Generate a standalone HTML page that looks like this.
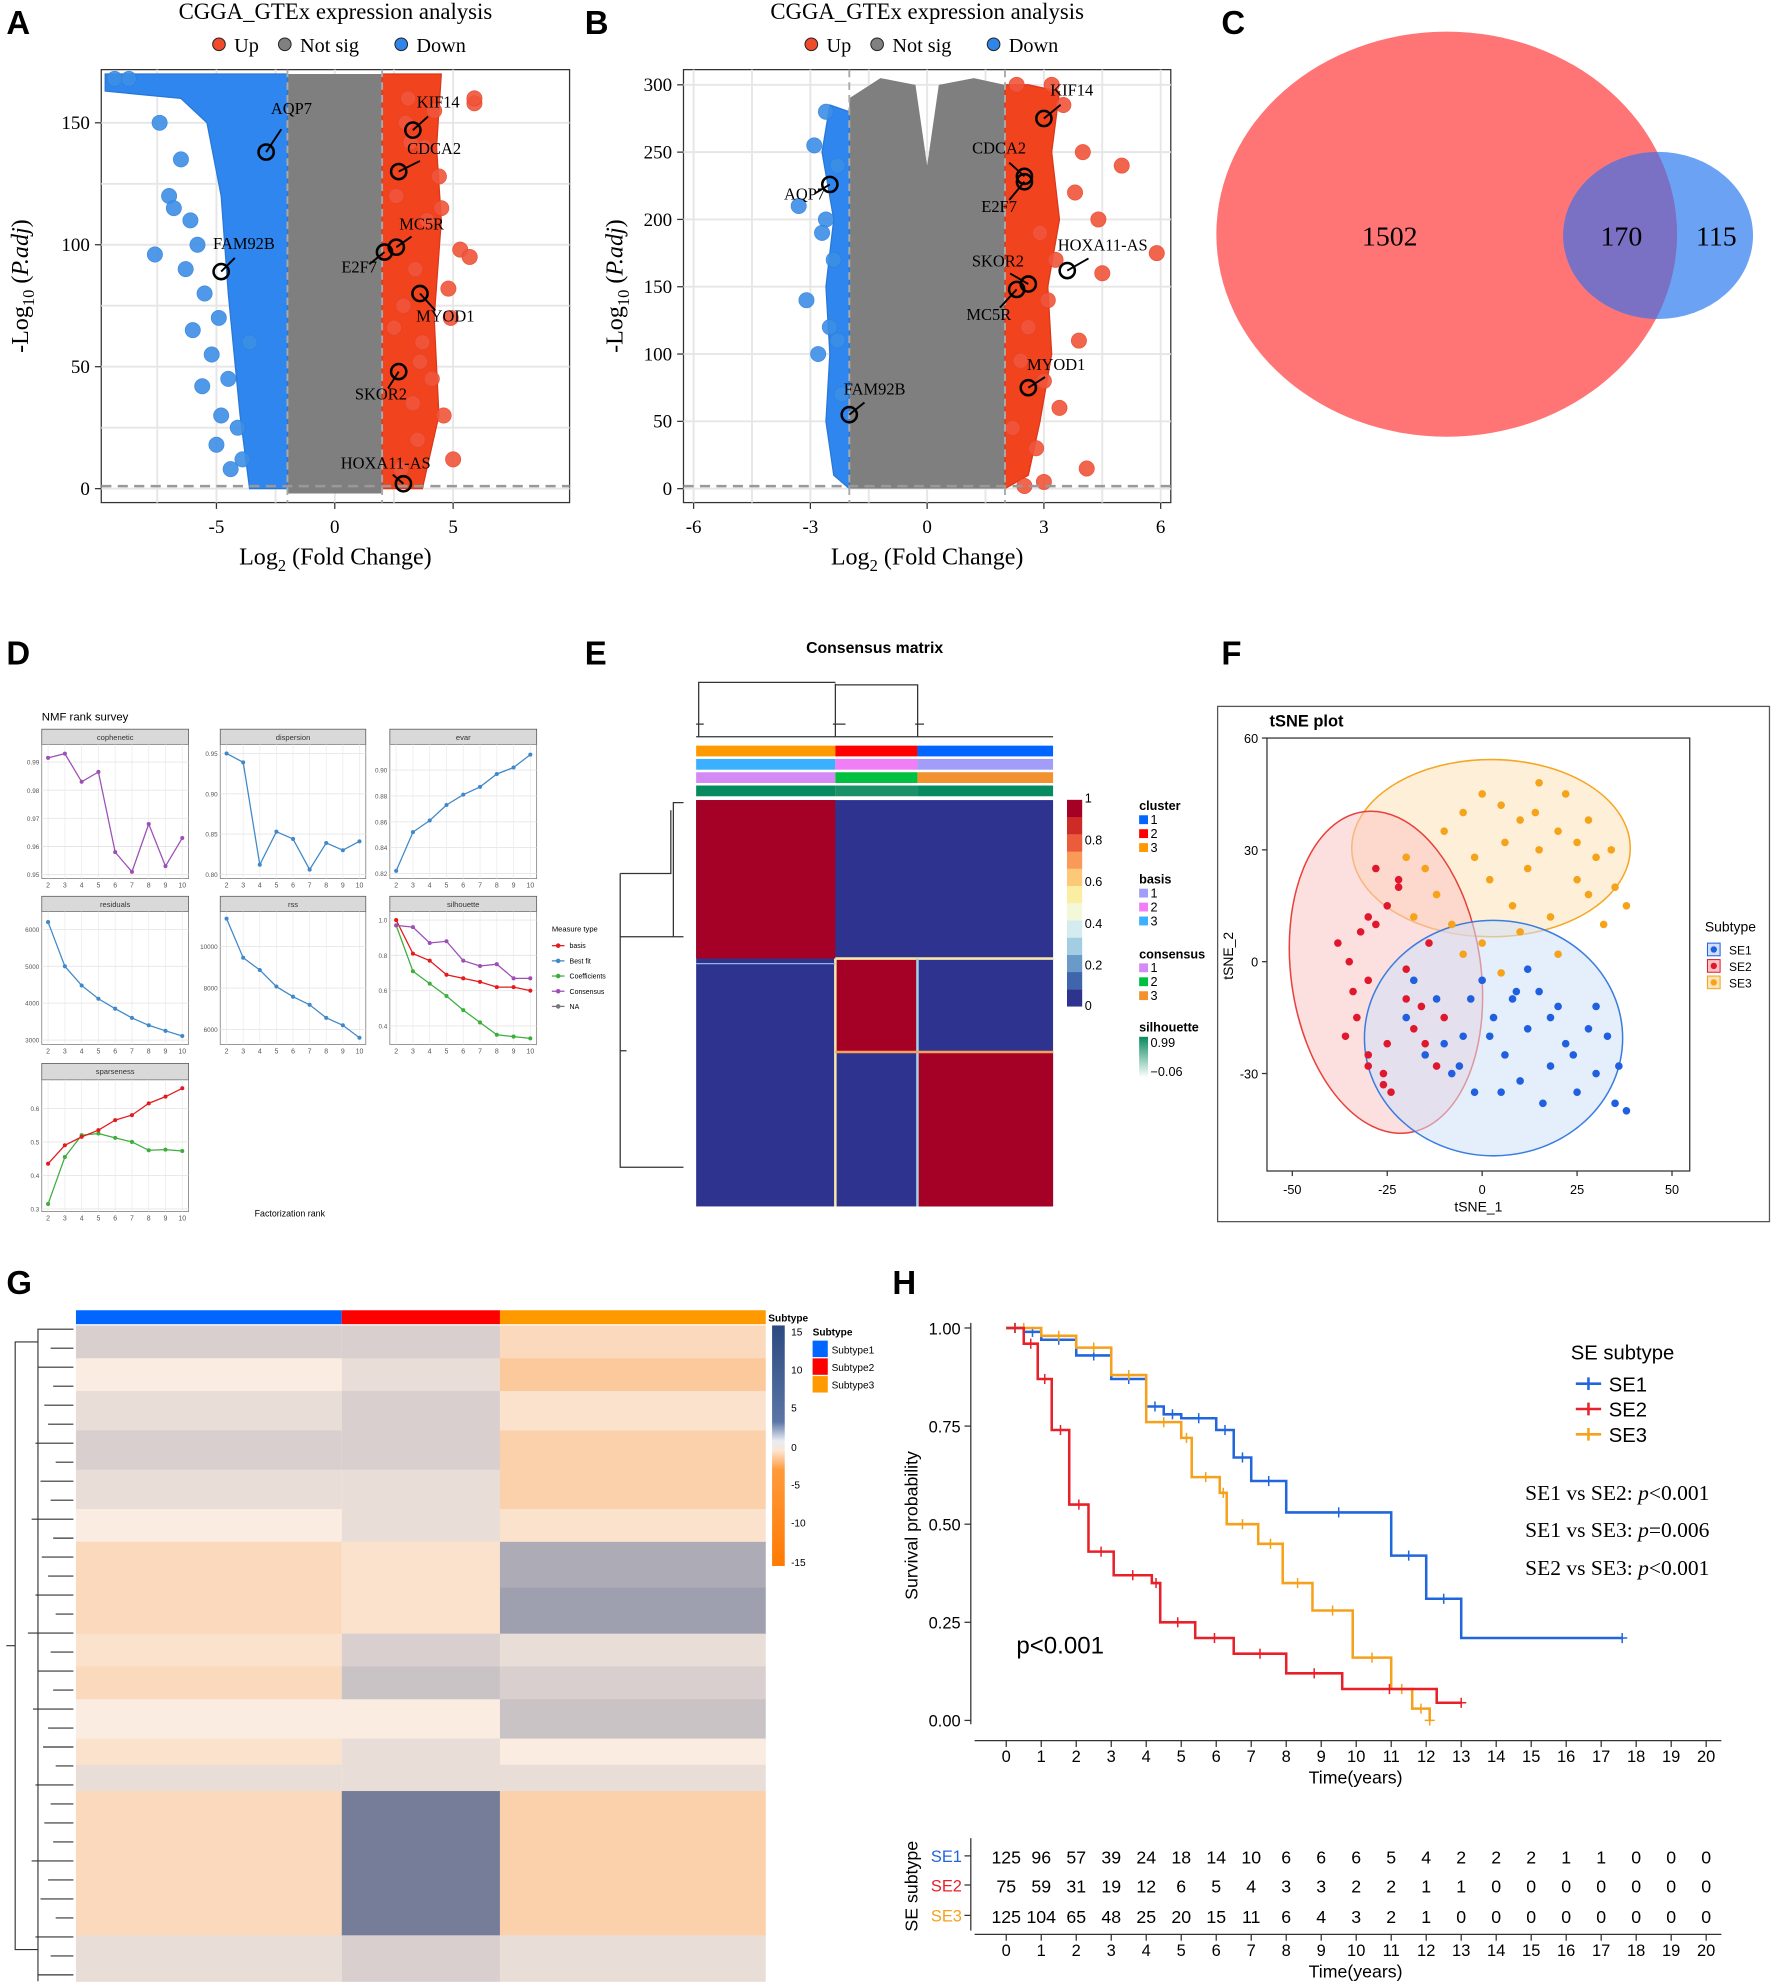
<!DOCTYPE html>
<html><head><meta charset="utf-8">
<style>
html,body{margin:0;padding:0;background:#fff;}
svg{display:block;}
text{font-family:"Liberation Sans",sans-serif;}
.serif{font-family:"Liberation Serif",serif;}
</style></head>
<body>
<svg id="fig" xmlns="http://www.w3.org/2000/svg" width="1772" height="1985" viewBox="0 0 1400 1568" preserveAspectRatio="none">
<g id="panelA"></g>
<g id="panelB"></g>
<g id="panelC"></g>
<g id="panelD"></g>
<g id="panelE"></g>
<g id="panelF"></g>
<g id="panelG"></g>
<g id="panelH"></g>
</svg>
<script>
// ---------------- DATA ----------------
const aGenes = ["AQP7","FAM92B","KIF14","CDCA2","MC5R","E2F7","MYOD1","SKOR2","HOXA11-AS"];
const aGeneX = [-2.9,-4.8,3.3,2.7,2.6,2.1,3.6,2.7,2.9];
const aGeneY = [138,89,147,130,99,97,80,48,2];
const aUpX = [3.1,4.2,5.9,3.8,2.6,4.5,5.3,3.4,2.9,4.9,3.7,5.7,4.1,3.3,4.6,3.5,5.0,2.8,3.9,4.4,3.2,5.9,3.6,2.5,4.8,3.0];
const aUpY = [160,155,158,140,120,115,98,90,75,70,60,95,45,35,30,20,12,8,110,128,142,160,52,66,82,150];
const aDownX = [-9.3,-8.7,-7.4,-6.5,-7.0,-6.1,-5.8,-6.3,-5.5,-4.9,-6.0,-5.2,-4.5,-5.6,-4.8,-4.1,-5.0,-3.9,-4.4,-3.6,-6.8,-7.6];
const aDownY = [168,168,150,135,120,110,100,90,80,70,65,55,45,42,30,25,18,12,8,60,115,96];
const bGenes = ["KIF14","CDCA2","E2F7","AQP7","HOXA11-AS","SKOR2","MC5R","MYOD1","FAM92B"];
const bGeneX = [3.0,2.5,2.5,-2.5,3.6,2.6,2.3,2.6,-2.0];
const bGeneY = [275,232,228,226,162,152,148,75,55];
const bUpX = [2.3,3.2,3.5,4.0,5.0,5.9,3.8,4.4,2.9,3.3,4.5,3.1,2.6,3.9,2.4,3.0,3.4,2.2,2.8,4.1,3.0,2.5];
const bUpY = [300,300,285,250,240,175,220,200,190,170,160,140,120,110,95,80,60,45,30,15,5,2];
const bDownX = [-2.6,-2.9,-2.3,-3.3,-2.6,-2.7,-2.4,-3.1,-2.5,-2.3,-2.8,-2.2];
const bDownY = [280,255,240,210,200,190,170,140,120,110,100,70];
const vennLeft = 1502, vennMid = 170, vennRight = 115;
const dRanks = [2,3,4,5,6,7,8,9,10];
const dCoph = [0.9915,0.993,0.983,0.9865,0.958,0.951,0.968,0.953,0.963];
const dDisp = [0.950,0.939,0.812,0.853,0.844,0.806,0.839,0.830,0.841];
const dEvar = [0.822,0.852,0.861,0.873,0.881,0.887,0.897,0.902,0.912];
const dResid = [6200,5000,4480,4120,3850,3600,3400,3250,3110];
const dRss = [11350,9460,8870,8070,7580,7190,6560,6200,5600];
const dSilBasis = [1.0,0.81,0.77,0.69,0.67,0.65,0.62,0.62,0.60];
const dSilCoef = [0.97,0.71,0.64,0.57,0.49,0.42,0.35,0.34,0.33];
const dSilCons = [0.97,0.96,0.87,0.88,0.77,0.74,0.75,0.67,0.67];
const dSparBasis = [0.435,0.49,0.515,0.535,0.565,0.58,0.615,0.635,0.66];
const dSparCoef = [0.315,0.455,0.52,0.525,0.512,0.50,0.475,0.477,0.473];
const eClusterSizes = [0.39,0.23,0.38];
const fSE1x = [-20,-15,-12,-8,-5,-2,0,3,6,8,10,12,15,18,20,22,25,28,30,35,38,-18,-10,-3,5,12,18,24,30,-6,2,9,16,36,33];
const fSE1y = [-15,-25,-10,-30,-20,-35,-5,-15,-25,-10,-32,-18,-8,-28,-12,-22,-35,-18,-30,-38,-40,-5,-22,-10,-35,-2,-15,-25,-12,-28,-20,-8,-38,-28,-20];
const fSE2x = [-38,-35,-32,-30,-28,-25,-22,-20,-33,-36,-30,-26,-24,-18,-15,-12,-28,-22,-30,-34,-16,-10,-25,-20,-14,-30,-26];
const fSE2y = [5,0,8,-5,10,15,20,-10,-15,-20,-25,-30,-35,-18,-22,-28,25,22,12,-8,-12,-15,-22,-2,5,-28,-33];
const fSE3x = [-20,-15,-10,-5,0,5,10,15,20,25,30,35,-12,-8,2,8,12,18,22,28,32,38,-18,-2,6,15,25,34,0,10,20,28,-5,5,14];
const fSE3y = [28,25,35,40,45,42,38,30,35,32,28,20,18,10,22,15,25,12,45,38,10,15,12,28,32,48,22,30,5,8,2,18,2,-3,40];
const gBandFrac = [0.05,0.05,0.06,0.06,0.06,0.05,0.07,0.07,0.05,0.05,0.06,0.04,0.04,0.22,0.07];
const gSub1 = [2,0,1,2,1,0,-2,-2,-1,-2,0,-1,1,-2,1];
const gSub2 = [2,1,2,2,1,1,-1,-1,2,3,0,1,1,9,2];
const gSub3 = [-2,-4,-1,-3,-3,-1,5,6,1,2,3,0,1,-3,1];
const hSE1t = [0,0.5,1,2,3,4,4.5,5,6,6.5,7,8,11,12,13,17.6];
const hSE1s = [1,0.99,0.97,0.93,0.87,0.80,0.78,0.77,0.74,0.67,0.61,0.53,0.42,0.31,0.21,0.21];
const hSE2t = [0,0.5,0.9,1.3,1.8,2.35,3.07,4.16,4.4,5.4,6.5,8,9.6,12.3,13];
const hSE2s = [1,0.96,0.87,0.74,0.55,0.43,0.37,0.35,0.25,0.21,0.17,0.12,0.08,0.045,0.045];
const hSE3t = [0,1,2,3,4,5,5.3,6.1,6.3,7.2,7.9,8.75,9.9,11,11.6,12.1,12.1];
const hSE3s = [1,0.98,0.95,0.88,0.76,0.72,0.62,0.58,0.50,0.45,0.35,0.28,0.16,0.08,0.03,0.03,0.0];
const hRiskTimes = [0,1,2,3,4,5,6,7,8,9,10,11,12,13,14,15,16,17,18,19,20];
const hRiskSE1 = [125,96,57,39,24,18,14,10,6,6,6,5,4,2,2,2,1,1,0,0,0];
const hRiskSE2 = [75,59,31,19,12,6,5,4,3,3,2,2,1,1,0,0,0,0,0,0,0];
const hRiskSE3 = [125,104,65,48,25,20,15,11,6,4,3,2,1,0,0,0,0,0,0,0,0];

// ---------------- HELPERS ----------------
const NS = "http://www.w3.org/2000/svg";
function mk(tag, attrs, parent){
  const e = document.createElementNS(NS, tag);
  for (const k in attrs) e.setAttribute(k, attrs[k]);
  parent.appendChild(e);
  return e;
}
function txt(s, x, y, attrs, parent){
  const e = mk("text", Object.assign({x:x, y:y}, attrs), parent);
  e.textContent = s;
  return e;
}
function lin(d0,d1,r0,r1){ return v => r0 + (v-d0)/(d1-d0)*(r1-r0); }
const $ = id => document.getElementById(id);

const letters = [["A",5,27],["B",462,27],["C",965,27],["D",5,525],["E",462,525],["F",965,525],["G",5,1022],["H",705,1022]];
for (const [L,x,y] of letters){
  const t = txt(L, x, y, {"font-size":26,"font-weight":"bold"}, $("fig"));
  
  
}

// ---------------- VOLCANO ----------------
function volcano(g, cfg){
  const sx = lin(cfg.xd[0],cfg.xd[1],cfg.px[0],cfg.px[1]);
  const sy = lin(cfg.yd[0],cfg.yd[1],cfg.py[0],cfg.py[1]);
  const t1 = txt("CGGA_GTEx expression analysis",(cfg.box[0]+cfg.box[2])/2,15,{"font-size":18,"text-anchor":"middle","class":"serif"},g);
  
  
  const leg = [["Up","#ef4a2a"],["Not sig","#808080"],["Down","#2f86e8"]];
  let lx = cfg.legX;
  for (const [lab,col] of leg){
    const c = mk("circle",{cx:lx,cy:35,r:5,fill:col,stroke:"#222","stroke-width":0.8},g);
    
    
    const tt = txt(lab,lx+12,41,{"font-size":16,"class":"serif"},g);
    
    
    lx += lab.length*8+36;
  }
  const bx = cfg.box;
  const frame = mk("rect",{x:bx[0],y:bx[1],width:bx[2]-bx[0],height:bx[3]-bx[1],fill:"#fff",stroke:"#333","stroke-width":1},g);
  
  
  for (const v of cfg.xgrid){ mk("line",{x1:sx(v),x2:sx(v),y1:bx[1],y2:bx[3],stroke:"#e6e6e6","stroke-width":1.5},g); }
  for (const v of cfg.ygrid){ mk("line",{x1:bx[0],x2:bx[2],y1:sy(v),y2:sy(v),stroke:"#e6e6e6","stroke-width":1.5},g); }
  const grey = mk("path",{d:cfg.greyPath(sx,sy),fill:"#7f7f7f"},g);
  
  
  const blue = mk("path",{d:cfg.bluePath(sx,sy),fill:"#2f86ee",stroke:"#2a78d6","stroke-width":1},g);
  
  
  const red = mk("path",{d:cfg.redPath(sx,sy),fill:"#f0431e",stroke:"#d9381c","stroke-width":1},g);
  
  
  for (let i=0;i<cfg.upX.length;i++){
    const c = mk("circle",{cx:sx(cfg.upX[i]),cy:sy(cfg.upY[i]),r:cfg.r,fill:"#f0553a",stroke:"#e8432a","stroke-width":0.6,opacity:0.9},g);
    
    
  }
  for (let i=0;i<cfg.downX.length;i++){
    const c = mk("circle",{cx:sx(cfg.downX[i]),cy:sy(cfg.downY[i]),r:cfg.r,fill:"#3d8fe6",stroke:"#2f80dd","stroke-width":0.6,opacity:0.9},g);
    
    
  }
  for (const v of cfg.fcLines){ mk("line",{x1:sx(v),x2:sx(v),y1:bx[1],y2:bx[3],stroke:"#aaa","stroke-width":1.5,"stroke-dasharray":"6,4"},g); }
  mk("line",{x1:bx[0],x2:bx[2],y1:sy(cfg.yd[0])-2,y2:sy(cfg.yd[0])-2,stroke:"#999","stroke-width":2,"stroke-dasharray":"8,5"},g);
  for (let i=0;i<cfg.genes.length;i++){
    const x = sx(cfg.gx[i]), y = sy(cfg.gy[i]);
    const o = cfg.lab[i];
    mk("line",{x1:x,y1:y,x2:x+o[0]*0.6,y2:y+o[1]*0.6,stroke:"#000","stroke-width":1.5},g);
    const c = mk("circle",{cx:x,cy:y,r:6,fill:"none",stroke:"#000","stroke-width":2},g);
    
    
    const t = txt(cfg.genes[i],x+o[0],y+o[1],{"font-size":13,"text-anchor":"middle","class":"serif"},g);
    
    
  }
  for (const v of cfg.xticks){
    mk("line",{x1:sx(v),x2:sx(v),y1:bx[3],y2:bx[3]+5,stroke:"#333"},g);
    const t = txt(String(v),sx(v),bx[3]+24,{"font-size":15,"text-anchor":"middle","class":"serif"},g);
    
    
  }
  for (const v of cfg.yticks){
    mk("line",{x1:bx[0]-5,x2:bx[0],y1:sy(v),y2:sy(v),stroke:"#333"},g);
    const t = txt(String(v),bx[0]-9,sy(v)+5,{"font-size":15,"text-anchor":"end","class":"serif"},g);
    
    
  }
  const xt = mk("text",{x:(bx[0]+bx[2])/2,y:446,"font-size":19,"text-anchor":"middle","class":"serif"},g);
  xt.innerHTML = 'Log<tspan font-size="13" dy="5">2</tspan><tspan dy="-5"> (Fold Change)</tspan>';
  
  
  const yt = mk("text",{x:0,y:0,"font-size":19,"text-anchor":"middle","class":"serif",transform:`translate(${cfg.ytx},${(bx[1]+bx[3])/2}) rotate(-90)`},g);
  yt.innerHTML = '-Log<tspan font-size="13" dy="5">10</tspan><tspan dy="-5"> (</tspan><tspan font-style="italic">P.adj</tspan>)';
  
  
}
function P(pts,sx,sy){ return "M"+pts.map(p=>sx(p[0])+","+sy(p[1])).join("L")+"Z"; }

volcano($("panelA"),{
  box:[80,55,450,397], xd:[-5,5], px:[171,358], yd:[0,150], py:[386,97], legX:173, ytx:22,
  xgrid:[-7.5,-5,-2.5,0,2.5,5], ygrid:[0,25,50,75,100,125,150], xticks:[-5,0,5], yticks:[0,50,100,150], r:6,
  fcLines:[-2,2], genes:aGenes, gx:aGeneX, gy:aGeneY, upX:aUpX, upY:aUpY, downX:aDownX, downY:aDownY,
  lab:[[20,-30],[18,-18],[20,-18],[28,-14],[20,-14],[-20,16],[20,22],[-14,22],[-14,-12]],
  greyPath:(sx,sy)=>P([[-2,170],[2,170],[2,-2],[-2,-2]],sx,sy),
  bluePath:(sx,sy)=>P([[-9.7,170],[-2,170],[-2,0],[-3.6,0],[-4.0,30],[-4.5,80],[-4.8,120],[-5.4,150],[-6.5,160],[-9.7,163]],sx,sy),
  redPath:(sx,sy)=>P([[2,170],[4.5,170],[4.3,140],[4.5,110],[4.2,70],[4.4,30],[3.7,0],[2,0]],sx,sy)
});
volcano($("panelB"),{
  box:[540,55,925,397], xd:[-6,6], px:[548,917], yd:[0,300], py:[386,67], legX:641, ytx:492,
  xgrid:[-6,-4.5,-3,-1.5,0,1.5,3,4.5,6], ygrid:[0,50,100,150,200,250,300], xticks:[-6,-3,0,3,6], yticks:[0,50,100,150,200,250,300], r:6,
  fcLines:[-2,2], genes:bGenes, gx:bGeneX, gy:bGeneY, upX:bUpX, upY:bUpY, downX:bDownX, downY:bDownY,
  lab:[[22,-18],[-20,-18],[-20,24],[-20,12],[28,-16],[-24,-14],[-22,24],[22,-14],[20,-16]],
  greyPath:(sx,sy)=>P([[-2,290],[-1.2,305],[-0.3,300],[0,240],[0.3,300],[1.2,305],[2,300],[2,0],[-2,0]],sx,sy),
  bluePath:(sx,sy)=>P([[-2,280],[-2.5,285],[-2.7,250],[-2.4,200],[-2.6,150],[-2.5,100],[-2.6,50],[-2.4,10],[-2,0]],sx,sy),
  redPath:(sx,sy)=>P([[2,300],[2.6,300],[3.4,295],[3.2,250],[3.4,200],[3.1,150],[3.2,100],[2.9,50],[2.6,10],[2,0]],sx,sy)
});

// ---------------- VENN ----------------
(function(){
  const g = $("panelC");
  const a = mk("ellipse",{cx:1143,cy:185,rx:182,ry:160,fill:"#ff7575"},g);
  
  
  const b = mk("ellipse",{cx:1310,cy:186,rx:75,ry:66,fill:"#6ba2f4"},g);
  
  
  mk("clipPath",{id:"vclip"},g).appendChild(document.createElementNS(NS,"ellipse"));
  const ce = g.querySelector("#vclip ellipse");
  ce.setAttribute("cx",1143); ce.setAttribute("cy",185); ce.setAttribute("rx",182); ce.setAttribute("ry",160);
  const o = mk("ellipse",{cx:1310,cy:186,rx:75,ry:66,fill:"#7a70c4","clip-path":"url(#vclip)"},g);
  
  
  const vals = [[vennLeft,1098],[vennMid,1281],[vennRight,1356]];
  for (const [v,x] of vals){
    const t = txt(String(v),x,194,{"font-size":22,"text-anchor":"middle","class":"serif"},g);
    
    
  }
})();

// ---------------- NMF RANK SURVEY ----------------
(function(){
  const g = $("panelD");
  const t0 = txt("NMF rank survey",33,569,{"font-size":9},g);
  
  
  const cols = [[33,149],[174,289],[308,424]];
  const rows = [[576,588,694],[708,720,825],[840,853,957]];
  const panels = [
    {n:"cophenetic",c:0,r:0,yd:[0.9495,0.9945],ticks:[0.95,0.96,0.97,0.98,0.99],fmt:v=>v.toFixed(2),s:[[dCoph,"#9c4fb5"]]},
    {n:"dispersion",c:1,r:0,yd:[0.798,0.955],ticks:[0.80,0.85,0.90,0.95],fmt:v=>v.toFixed(2),s:[[dDisp,"#3f88c9"]]},
    {n:"evar",c:2,r:0,yd:[0.818,0.916],ticks:[0.82,0.84,0.86,0.88,0.90],fmt:v=>v.toFixed(2),s:[[dEvar,"#3f88c9"]]},
    {n:"residuals",c:0,r:1,yd:[2950,6350],ticks:[3000,4000,5000,6000],fmt:v=>String(v),s:[[dResid,"#3f88c9"]]},
    {n:"rss",c:1,r:1,yd:[5400,11450],ticks:[6000,8000,10000],fmt:v=>String(v),s:[[dRss,"#3f88c9"]]},
    {n:"silhouette",c:2,r:1,yd:[0.31,1.02],ticks:[0.4,0.6,0.8,1.0],fmt:v=>v.toFixed(1),s:[[dSilCoef,"#3cae3c"],[dSilBasis,"#e41a1c"],[dSilCons,"#9c4fb5"]]},
    {n:"sparseness",c:0,r:2,yd:[0.3,0.67],ticks:[0.3,0.4,0.5,0.6],fmt:v=>v.toFixed(1),s:[[dSparCoef,"#3cae3c"],[dSparBasis,"#e41a1c"]]}
  ];
  for (const p of panels){
    const [x0,x1] = cols[p.c]; const [ys,y0,y1] = rows[p.r];
    const pg = mk("g",{},g);
    
    
    mk("rect",{x:x0,y:ys,width:x1-x0,height:y0-ys,fill:"#d9d9d9",stroke:"#555","stroke-width":0.6},pg);
    txt(p.n,(x0+x1)/2,ys+8.5,{"font-size":6,"text-anchor":"middle",fill:"#333"},pg);
    mk("rect",{x:x0,y:y0,width:x1-x0,height:y1-y0,fill:"#fff",stroke:"#777","stroke-width":0.6},pg);
    const sx = lin(2,10,x0+5,x1-5), sy = lin(p.yd[0],p.yd[1],y1-2,y0+4);
    for (const r of dRanks) mk("line",{x1:sx(r),x2:sx(r),y1:y0,y2:y1,stroke:"#ececec","stroke-width":0.6},pg);
    for (const v of p.ticks){
      mk("line",{x1:x0,x2:x1,y1:sy(v),y2:sy(v),stroke:"#e6e6e6","stroke-width":0.7},pg);
      txt(p.fmt(v),x0-2,sy(v)+2,{"font-size":5,"text-anchor":"end",fill:"#555"},pg);
    }
    for (const r of dRanks) txt(String(r),sx(r),y1+7,{"font-size":5.5,"text-anchor":"middle",fill:"#555"},pg);
    for (const [vals,col] of p.s){
      const pts = vals.map((v,i)=>sx(dRanks[i])+","+sy(v)).join(" ");
      const pl = mk("polyline",{points:pts,fill:"none",stroke:col,"stroke-width":1},pg);
      
      
      vals.forEach((v,i)=>{
        const c = mk("circle",{cx:sx(dRanks[i]),cy:sy(v),r:1.6,fill:col},pg);
        
        
      });
    }
  }
  const lt = txt("Measure type",436,736,{"font-size":6},g);
  
  
  const items = [["basis","#e41a1c"],["Best fit","#3f88c9"],["Coefficients","#3cae3c"],["Consensus","#9c4fb5"],["NA","#777"]];
  items.forEach(([l,c],i)=>{
    const y = 747+i*12;
    mk("line",{x1:436,x2:446,y1:y,y2:y,stroke:c,"stroke-width":1},g);
    mk("circle",{cx:441,cy:y,r:1.8,fill:c},g);
    const t = txt(l,450,y+2,{"font-size":5.5},g);
    
    
  });
  const xl = txt("Factorization rank",229,961,{"font-size":7,"text-anchor":"middle"},g);
  
  
})();

// ---------------- CONSENSUS MATRIX ----------------
(function(){
  const g = $("panelE");
  const X0=550,X1=832,Y0=632,Y1=953;
  const t = txt("Consensus matrix",691,516,{"font-size":12.5,"font-weight":"bold","text-anchor":"middle"},g);
  
  
  let acc = 0; const bx=[X0];
  for (const f of eClusterSizes){ acc+=f; bx.push(X0+acc*(X1-X0)); }
  const ry=[Y0, Y0+(bx[1]-X0)/(X1-X0)*(Y1-Y0), Y0+(bx[2]-X0)/(X1-X0)*(Y1-Y0), Y1];
  const bg = mk("rect",{x:X0,y:Y0,width:X1-X0,height:Y1-Y0,fill:"#2e3390"},g);
  
  
  for (let i=0;i<3;i++){
    const r = mk("rect",{x:bx[i],y:ry[i],width:bx[i+1]-bx[i],height:ry[i+1]-ry[i],fill:"#a50026"},g);
    
    
  }
  mk("line",{x1:bx[1],x2:bx[1],y1:ry[1],y2:Y1,stroke:"#f6e7a8","stroke-width":2},g);
  mk("line",{x1:bx[1],x2:X1,y1:ry[1],y2:ry[1],stroke:"#f6e7a8","stroke-width":2},g);
  mk("line",{x1:bx[2],x2:bx[2],y1:ry[1],y2:Y1,stroke:"#a7d0e4","stroke-width":2},g);
  mk("line",{x1:bx[1],x2:X1,y1:ry[2],y2:ry[2],stroke:"#f6a15a","stroke-width":2},g);
  mk("line",{x1:X0,x2:bx[1],y1:ry[1]+4,y2:ry[1]+4,stroke:"#8fb7da","stroke-width":1},g);
  const annot = [["cluster",["#ff9900","#ff0000","#0066ff"]],["basis",["#3ab0ff","#f07ef6","#a29df9"]],["consensus",["#d48af5","#00c040","#f2922e"]],["silhouette",["#078a5f","#1a9068","#078a5f"]]];
  annot.forEach(([n,cs],k)=>{
    for (let i=0;i<3;i++){
      const r = mk("rect",{x:bx[i],y:589+k*10.5,width:bx[i+1]-bx[i],height:8.5,fill:cs[i]},g);
      
      
    }
  });
  const d1 = mk("path",{d:"M552,582 V539 H660 M660,540 V582 M660,541 H725 V582 M550,582 H832 M550,572 H556 M658,572 H668 M723,572 H730",fill:"none",stroke:"#333","stroke-width":1},g);
  
  
  const d2 = mk("path",{d:"M540,634 H532 V740 H490 V922 H532 M490,830 H495 M532,740 H540 M532,922 H540 M490,690 V920 M490,690 H530 V640",fill:"none",stroke:"#333","stroke-width":1},g);
  
  
  const cols = ["#2e3390","#3f66ad","#6a9ac8","#a2cde2","#d4ebef","#f3f8d9","#fbeea2","#fdc877","#f99a58","#ea5c3b","#ce2a26","#a50026"];
  cols.forEach((c,i)=>{
    const r = mk("rect",{x:843,y:795-(i+1)*13.6,width:12,height:13.7,fill:c},g);
    
    
  });
  [["1",634],["0.8",667],["0.6",700],["0.4",733],["0.2",766],["0",798]].forEach(([l,y])=>{
    const tt = txt(l,857,y,{"font-size":10},g);
    
    
  });
  const leg = [["cluster",640,["#0066ff","#ff0000","#ff9900"]],["basis",698,["#a29df9","#f07ef6","#3ab0ff"]],["consensus",757,["#d48af5","#00c040","#f2922e"]]];
  for (const [n,y,cs] of leg){
    const tt = txt(n,900,y,{"font-size":10,"font-weight":"bold"},g);
    
    
    cs.forEach((c,i)=>{
      mk("rect",{x:900,y:y+4+i*11,width:7,height:7,fill:c},g);
      const li = txt(String(i+1),909,y+11+i*11,{"font-size":10},g);
      
      
    });
  }
  const st = txt("silhouette",900,815,{"font-size":10,"font-weight":"bold"},g);
  
  
  const lg = mk("linearGradient",{id:"silg",x1:0,y1:0,x2:0,y2:1},g);
  mk("stop",{offset:0,"stop-color":"#078a5f"},lg); mk("stop",{offset:1,"stop-color":"#ffffff"},lg);
  mk("rect",{x:900,y:819,width:7,height:32,fill:"url(#silg)"},g);
  txt("0.99",909,827,{"font-size":10},g);
  txt("−0.06",909,850,{"font-size":10},g);
})();

// ---------------- tSNE ----------------
(function(){
  const g = $("panelF");
  mk("rect",{x:962,y:558,width:436,height:407,fill:"#fff",stroke:"#555","stroke-width":1},g);
  const t = txt("tSNE plot",1003,574,{"font-size":13,"font-weight":"bold"},g);
  
  
  const sx = lin(-50,50,1021,1321), sy = lin(-30,60,848,583);
  mk("rect",{x:1001,y:583,width:334,height:342,fill:"none",stroke:"#333","stroke-width":1},g);
  const ells = [["se3",1178,670,110,70,0,"#fde3b8","#f5a623"],["se2",1095,768,75,128,-8,"#f9c4c4","#e8403a"],["se1",1180,820,102,93,0,"#cfe0f8","#3a7de0"]];
  for (const [n,cx,cy,rx,ry,rot,f,s] of ells){
    const e = mk("ellipse",{cx,cy,rx,ry,fill:f,"fill-opacity":0.55,stroke:s,"stroke-width":1.2,transform:`rotate(${rot} ${cx} ${cy})`},g);
    
    
  }
  const sets = [[fSE3x,fSE3y,"#f5a31a","se3"],[fSE2x,fSE2y,"#e0182d","se2"],[fSE1x,fSE1y,"#1f5fe0","se1"]];
  for (const [xs,ys,c,n] of sets){
    for (let i=0;i<xs.length;i++){
      const p = mk("circle",{cx:sx(xs[i]),cy:sy(ys[i]),r:3,fill:c},g);
      
      
    }
  }
  for (const v of [-50,-25,0,25,50]){
    mk("line",{x1:sx(v),x2:sx(v),y1:925,y2:929,stroke:"#333"},g);
    txt(String(v),sx(v),943,{"font-size":10,"text-anchor":"middle"},g);
  }
  for (const v of [-30,0,30,60]){
    mk("line",{x1:997,x2:1001,y1:sy(v),y2:sy(v),stroke:"#333"},g);
    txt(String(v),994,sy(v)+4,{"font-size":10,"text-anchor":"end"},g);
  }
  const xl = txt("tSNE_1",1168,957,{"font-size":11,"text-anchor":"middle"},g);
  
  
  const yl = txt("tSNE_2",0,0,{"font-size":11,"text-anchor":"middle",transform:"translate(974,755) rotate(-90)"},g);
  
  
  txt("Subtype",1347,736,{"font-size":11},g);
  [["SE1","#1f5fe0","#cfe0f8"],["SE2","#e0182d","#f9c4c4"],["SE3","#f5a31a","#fde3b8"]].forEach(([l,c,f],i)=>{
    mk("rect",{x:1349,y:745+i*13,width:10,height:10,fill:f,stroke:c,"stroke-width":0.8},g);
    mk("circle",{cx:1354,cy:750+i*13,r:2.5,fill:c},g);
    const le = txt(l,1366,754+i*13,{"font-size":9.5},g);
    
    
  });
})();

// ---------------- HEATMAP G ----------------
(function(){
  const g = $("panelG");
  const X0=60,X1=605,Y0=1047,Y1=1565;
  const grpX=[60,270,395,605];
  const topCols=["#0066ff","#ff0000","#ff9900"];
  for (let i=0;i<3;i++){
    const r = mk("rect",{x:grpX[i],y:1035,width:grpX[i+1]-grpX[i],height:11,fill:topCols[i]},g);
    
    
  }
  function col(v){
    const lo=[255,122,0], mid=[250,236,225], hi=[40,60,110];
    const t=Math.max(-1,Math.min(1,v/15)); const a=Math.abs(t);
    const e = t<0?lo:hi;
    const c = mid.map((m,k)=>Math.round(m+(e[k]-m)*Math.pow(a,0.9)));
    return `rgb(${c[0]},${c[1]},${c[2]})`;
  }
  const subs=[gSub1,gSub2,gSub3];
  const tot = gBandFrac.reduce((a,c)=>a+c,0);
  let y=Y0;
  gBandFrac.forEach((f,b)=>{
    const h=f/tot*(Y1-Y0);
    for (let i=0;i<3;i++){
      const r = mk("rect",{x:grpX[i],y:y,width:grpX[i+1]-grpX[i],height:h+0.5,fill:col(subs[i][b])},g);
      
      
    }
    y+=h;
  });
  const dn = mk("path",{d:"M58,1050 H30 V1565 M58,1080 H30 M58,1110 H35 M58,1140 H28 M58,1170 H32 M58,1200 H25 M58,1230 H33 M58,1260 H28 M58,1290 H22 M58,1320 H30 M58,1350 H26 M58,1380 H34 M58,1410 H28 M58,1440 H35 M58,1470 H25 M58,1500 H32 M58,1530 H28 M58,1560 H30 M30,1060 H12 V1540 H30 M12,1300 H5 M58,1065 H40 M58,1095 H42 M58,1125 H38 M58,1155 H44 M58,1185 H40 M58,1215 H42 M58,1245 H38 M58,1275 H44 M58,1305 H40 M58,1335 H42 M58,1365 H38 M58,1395 H44 M58,1425 H40 M58,1455 H42 M58,1485 H38 M58,1515 H44 M58,1545 H40",fill:"none",stroke:"#333","stroke-width":0.9},g);
  
  
  txt("Subtype",607,1044,{"font-size":8,"font-weight":"bold"},g);
  const lg = mk("linearGradient",{id:"gcb",x1:0,y1:0,x2:0,y2:1},g);
  [[0,"#2b4a80"],[0.4,"#5b76a6"],[0.48,"#e8ecf2"],[0.52,"#fbe6d4"],[0.6,"#ff9a3c"],[1,"#ff7a00"]].forEach(([o,c])=>mk("stop",{offset:o,"stop-color":c},lg));
  const cb = mk("rect",{x:610,y:1047,width:10,height:190,fill:"url(#gcb)"},g);
  
  
  [["15",1055],["10",1085],["5",1115],["0",1146],["-5",1176],["-10",1206],["-15",1237]].forEach(([l,yy])=>txt(l,625,yy,{"font-size":8},g));
  txt("Subtype",642,1055,{"font-size":8,"font-weight":"bold"},g);
  [["Subtype1","#0066ff"],["Subtype2","#ff0000"],["Subtype3","#ff9900"]].forEach(([l,c],i)=>{
    mk("rect",{x:642,y:1059+i*14,width:12,height:13,fill:c},g);
    const le = txt(l,657,1069+i*14,{"font-size":8},g);
    
    
  });
})();

// ---------------- KAPLAN-MEIER ----------------
(function(){
  const g = $("panelH");
  const sx = lin(0,20,795,1348), sy = lin(0,1,1359,1049);
  mk("line",{x1:767,x2:767,y1:1045,y2:1362,stroke:"#333"},g);
  mk("line",{x1:770,x2:1360,y1:1375,y2:1375,stroke:"#333"},g);
  for (const v of [0,0.25,0.5,0.75,1]){
    mk("line",{x1:762,x2:767,y1:sy(v),y2:sy(v),stroke:"#333"},g);
    txt(v.toFixed(2),759,sy(v)+5,{"font-size":13,"text-anchor":"end"},g);
  }
  for (const t of hRiskTimes){
    mk("line",{x1:sx(t),x2:sx(t),y1:1375,y2:1380,stroke:"#333"},g);
    txt(String(t),sx(t),1392,{"font-size":13,"text-anchor":"middle"},g);
  }
  const xl = txt("Time(years)",1071,1409,{"font-size":14,"text-anchor":"middle"},g);
  
  
  const yl = txt("Survival probability",0,0,{"font-size":14,"text-anchor":"middle",transform:"translate(725,1205) rotate(-90)"},g);
  
  
  const series=[[hSE1t,hSE1s,"#2266dd","se1"],[hSE3t,hSE3s,"#f5a11c","se3"],[hSE2t,hSE2s,"#e8202a","se2"]];
  for (const [ts,ss,c,n] of series){
    let d=`M${sx(ts[0])},${sy(ss[0])}`;
    for (let i=1;i<ts.length;i++){ d+=`H${sx(ts[i])}V${sy(ss[i])}`; }
    const p = mk("path",{d,fill:"none",stroke:c,"stroke-width":2},g);
    
    
    for (let i=1;i<ts.length-1;i++){
      const x=(sx(ts[i])+sx(ts[i-1]))/2, y=sy(ss[i-1]);
      mk("path",{d:`M${x},${y-4}V${y+4}`,stroke:c,"stroke-width":1.2},g);
    }
    const x=sx(ts[ts.length-1]), y=sy(ss[ss.length-1]);
    mk("path",{d:`M${x-4},${y}H${x+4}M${x},${y-4}V${y+4}`,stroke:c,"stroke-width":1.2},g);
  }
  const pv = txt("p<0.001",803,1306,{"font-size":19},g);
  
  
  txt("SE subtype",1241,1074,{"font-size":16},g);
  [["SE1","#2266dd"],["SE2","#e8202a"],["SE3","#f5a11c"]].forEach(([l,c],i)=>{
    const y=1093+i*20;
    mk("path",{d:`M1245,${y}H1265M1255,${y-5}V${y+5}`,stroke:c,"stroke-width":2},g);
    const le = txt(l,1271,y+6,{"font-size":16},g);
    
    
  });
  [["SE1 vs SE2: ","p","<0.001",1185],["SE1 vs SE3: ","p","=0.006",1214],["SE2 vs SE3: ","p","<0.001",1244]].forEach(([a,b,c,y])=>{
    const t = mk("text",{x:1205,y:y,"font-size":17,"class":"serif"},g);
    t.innerHTML = `${a}<tspan font-style="italic">${b}</tspan>${c.replace('<','&lt;')}`;
    
    
  });
  mk("line",{x1:767,x2:767,y1:1452,y2:1525,stroke:"#333"},g);
  mk("line",{x1:770,x2:1360,y1:1528,y2:1528,stroke:"#333"},g);
  const rows=[["SE1",hRiskSE1,"#2266dd",1466],["SE2",hRiskSE2,"#e8202a",1489],["SE3",hRiskSE3,"#f5a11c",1513]];
  for (const [l,vals,c,y] of rows){
    txt(l,760,y+5,{"font-size":13,"text-anchor":"end",fill:c},g);
    mk("line",{x1:762,x2:767,y1:y,y2:y,stroke:"#333"},g);
    vals.forEach((v,i)=>{
      const t = txt(String(v),sx(hRiskTimes[i]),y+6,{"font-size":14,"text-anchor":"middle"},g);
      
      
    });
  }
  for (const t of hRiskTimes){
    mk("line",{x1:sx(t),x2:sx(t),y1:1528,y2:1533,stroke:"#333"},g);
    txt(String(t),sx(t),1545,{"font-size":13,"text-anchor":"middle"},g);
  }
  txt("Time(years)",1071,1562,{"font-size":14,"text-anchor":"middle"},g);
  const st = txt("SE subtype",0,0,{"font-size":14,"text-anchor":"middle",transform:"translate(725,1490) rotate(-90)"},g);
  
  
})();
</script>
</body></html>
